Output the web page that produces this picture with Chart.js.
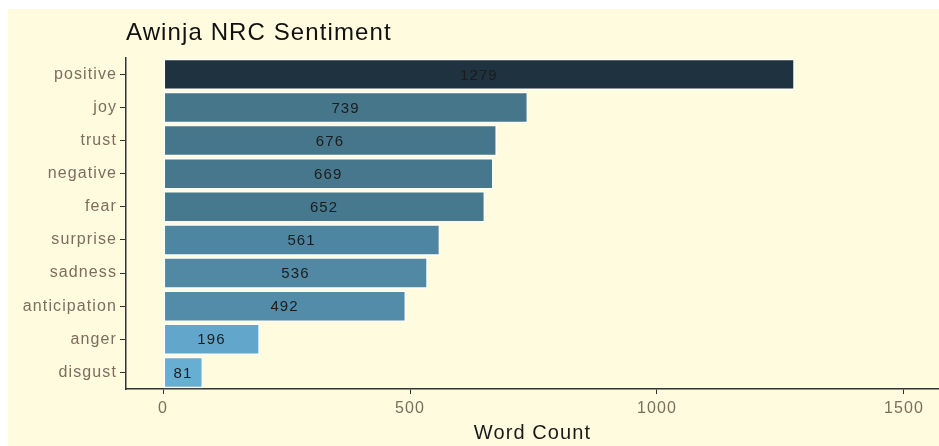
<!DOCTYPE html>
<html>
<head>
<meta charset="utf-8">
<script src="https://cdn.jsdelivr.net/npm/chart.js@4"></script>
<style>
  html, body { margin: 0; padding: 0; background: #ffffff; }
  #wrap { position: absolute; left: 8px; top: 9px; width: 931px; height: 437px; background: #fffbdf; }
</style>
</head>
<body>
<div id="wrap"><canvas id="nrcChart" width="931" height="437"></canvas></div>
<script>
const sentiments = ['positive', 'joy', 'trust', 'negative', 'fear', 'surprise', 'sadness', 'anticipation', 'anger', 'disgust'];
const wordCounts = [1279, 739, 676, 669, 652, 561, 536, 492, 196, 81];
const barColors = ['#1f323f', '#46768a', '#46768b', '#46778c', '#47798e', '#4e85a0', '#5189a4', '#528ca8', '#62a7cb', '#66aed2'];
const xTicks = [0, 500, 1000, 1500];

const tickColor = '#7d6d5d';
const fontFamily = '"Liberation Sans", Arial, sans-serif';

// the reference text is rendered a bit wider, so space the letters out
const spacing = {
  id: 'spacing',
  beforeUpdate(chart) { chart.ctx.letterSpacing = '1.1px'; },
  beforeDraw(chart) { chart.ctx.letterSpacing = '1.1px'; }
};

// value labels in the middle of each bar
const barLabels = {
  id: 'barLabels',
  afterDatasetsDraw(chart) {
    const { ctx } = chart;
    const meta = chart.getDatasetMeta(0);
    const xs = chart.scales.x;
    ctx.save();
    ctx.font = '15px ' + fontFamily;
    ctx.fillStyle = '#1c1c1c';
    ctx.textAlign = 'center';
    ctx.textBaseline = 'middle';
    meta.data.forEach((bar, i) => {
      ctx.fillText(String(wordCounts[i]), xs.getPixelForValue(wordCounts[i] / 2), bar.y + 1);
    });
    ctx.restore();
  }
};

const ctx = document.getElementById('nrcChart').getContext('2d');
const nrcChart = new Chart(ctx, {
  type: 'bar',
  data: {
    labels: sentiments,
    datasets: [{
      data: wordCounts,
      backgroundColor: barColors,
      borderColor: '#ffffff',
      borderWidth: 1.5,
      borderSkipped: false,
      barPercentage: 0.95,
      categoryPercentage: 1.0
    }]
  },
  options: {
    indexAxis: 'y',
    responsive: false,
    animation: false,
    layout: { padding: { left: 0, right: 0, top: 0, bottom: 0 } },
    scales: {
      x: {
        min: -75,
        max: 1571,
        afterBuildTicks: (axis) => { axis.ticks = xTicks.map(v => ({ value: v })); },
        afterFit: (axis) => { axis.height = 57; },
        border: { display: true, color: '#333333', width: 1.5 },
        grid: { display: true, drawOnChartArea: false, tickLength: 5, color: '#333333', lineWidth: 1 },
        ticks: {
          color: tickColor,
          padding: 5,
          maxRotation: 0,
          callback: (v) => String(v),
          font: { family: fontFamily, size: 16 }
        },
        title: {
          display: true,
          text: 'Word Count',
          color: '#1a1a1a',
          padding: { top: 0, bottom: 1 },
          font: { family: fontFamily, size: 20 }
        }
      },
      y: {
        afterFit: (axis) => { axis.width = 118; },
        border: { display: true, color: '#333333', width: 1.5 },
        grid: { display: true, offset: false, drawOnChartArea: false, tickLength: 6, color: '#333333', lineWidth: 1 },
        ticks: {
          color: tickColor,
          padding: 3,
          font: { family: fontFamily, size: 16 }
        }
      }
    },
    plugins: {
      legend: { display: false },
      tooltip: { enabled: false },
      title: {
        display: true,
        text: 'Awinja NRC Sentiment',
        align: 'start',
        fullSize: false,
        color: '#111111',
        padding: { top: 10, bottom: 10 },
        font: { family: fontFamily, size: 24, weight: 'normal' }
      }
    }
  },
  plugins: [spacing, barLabels]
});
</script>
</body>
</html>
